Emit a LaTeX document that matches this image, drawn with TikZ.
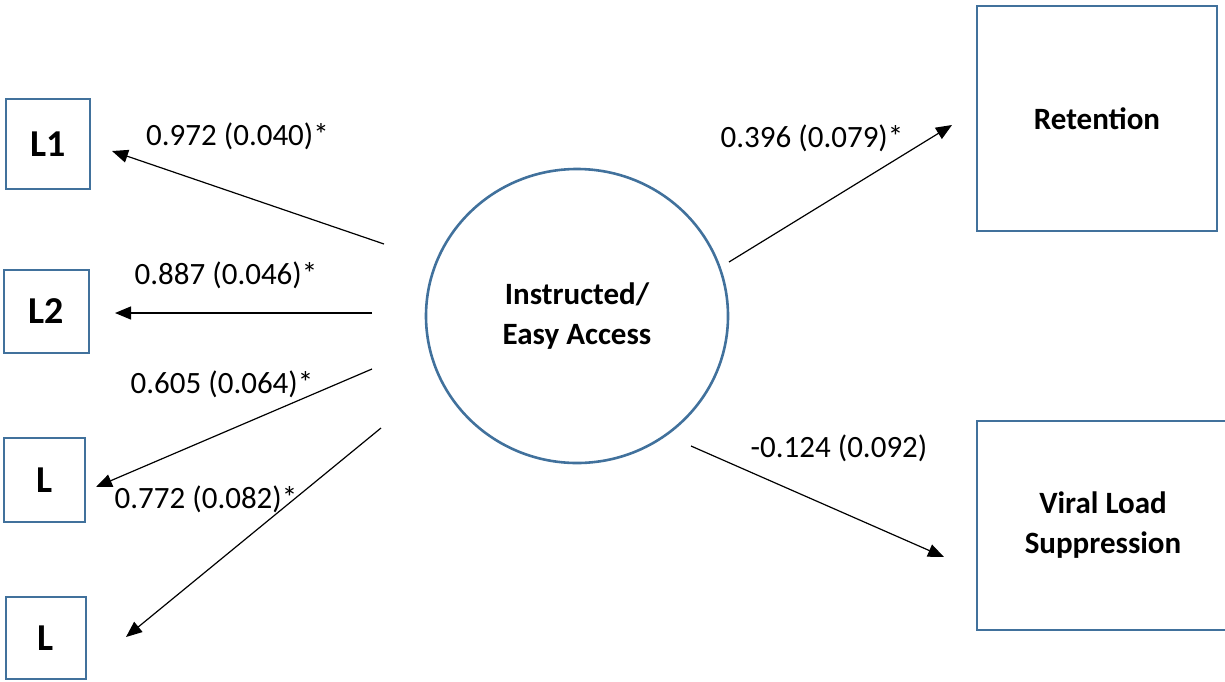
\documentclass[tikz,border=0pt]{standalone}
\usepackage{fontspec}
\setmainfont{Carlito}
\usetikzlibrary{arrows.meta,shapes.geometric}
\definecolor{outline}{RGB}{65,113,156}

\tikzset{
  sqbox/.style args={#1x#2}{draw=outline, line width=2.6pt, inner sep=0pt,
    minimum width=#1pt, minimum height=#2pt, align=center,
    font=\bfseries\fontsize{31}{40}\selectfont},
  indbox/.style args={#1x#2}{sqbox=#1x#2, font=\bfseries\fontsize{38}{44}\selectfont},
  latent/.style={draw=outline, line width=2.6pt, ellipse, inner sep=0pt,
    minimum width=302pt, minimum height=294pt, align=center,
    font=\bfseries\fontsize{31}{40}\selectfont},
  path/.style={draw=black, line width=1.2pt, -{Triangle[length=16pt,width=13pt]}},
  coef/.style={font=\fontsize{31}{37}\selectfont, inner sep=0pt}
}

\begin{document}
\begin{tikzpicture}[x=1pt,y=-1pt]
\useasboundingbox (0,0) rectangle (1225,681);

% indicators
\node[indbox=84x90] (l1) at (48,144) {L1};
\node[indbox=85x83] (l2) at (46.5,311.5) {L2};
\node[indbox=81x84] (l3) at (44.5,480) {L};
\node[indbox=80x82] (l4) at (46,638) {L};

% latent factor
\node[latent] (f) at (577,316) {Instructed/\\Easy Access};

% outcomes
\node[sqbox=240x225] (ret) at (1097,118.5) {Retention};
\node[sqbox=252x209] (vl) at (1103,525.5) {Viral Load\\Suppression};

% path end points
\coordinate (s1) at (384,244);   \coordinate (t1) at (112,151);
\coordinate (s2) at (372,313);   \coordinate (t2) at (115,313);
\coordinate (s3) at (372,369);   \coordinate (t3) at (96,487);
\coordinate (s4) at (381,428);   \coordinate (t4) at (126,637);
\coordinate (s5) at (729,262);   \coordinate (t5) at (952,125);
\coordinate (s6) at (691,446);   \coordinate (t6) at (944,557);

\draw[path] (s1) -- (t1);
\draw[path] (s2) -- (t2);
\draw[path] (s3) -- (t3);
\draw[path] (s4) -- (t4);
\draw[path] (s5) -- (t5);
\draw[path] (s6) -- (t6);

% loadings and path coefficients
\node[coef] (c1) at (237.5,136) {0.972 (0.040)*};
\node[coef] (c2) at (226,275) {0.887 (0.046)*};
\node[coef] (c3) at (222,384) {0.605 (0.064)*};
\node[coef] (c4) at (206,499) {0.772 (0.082)*};
\node[coef] (c5) at (812,138) {0.396 (0.079)*};
\node[coef] (c6) at (839,448) {-0.124 (0.092)};
\end{tikzpicture}
\end{document}
